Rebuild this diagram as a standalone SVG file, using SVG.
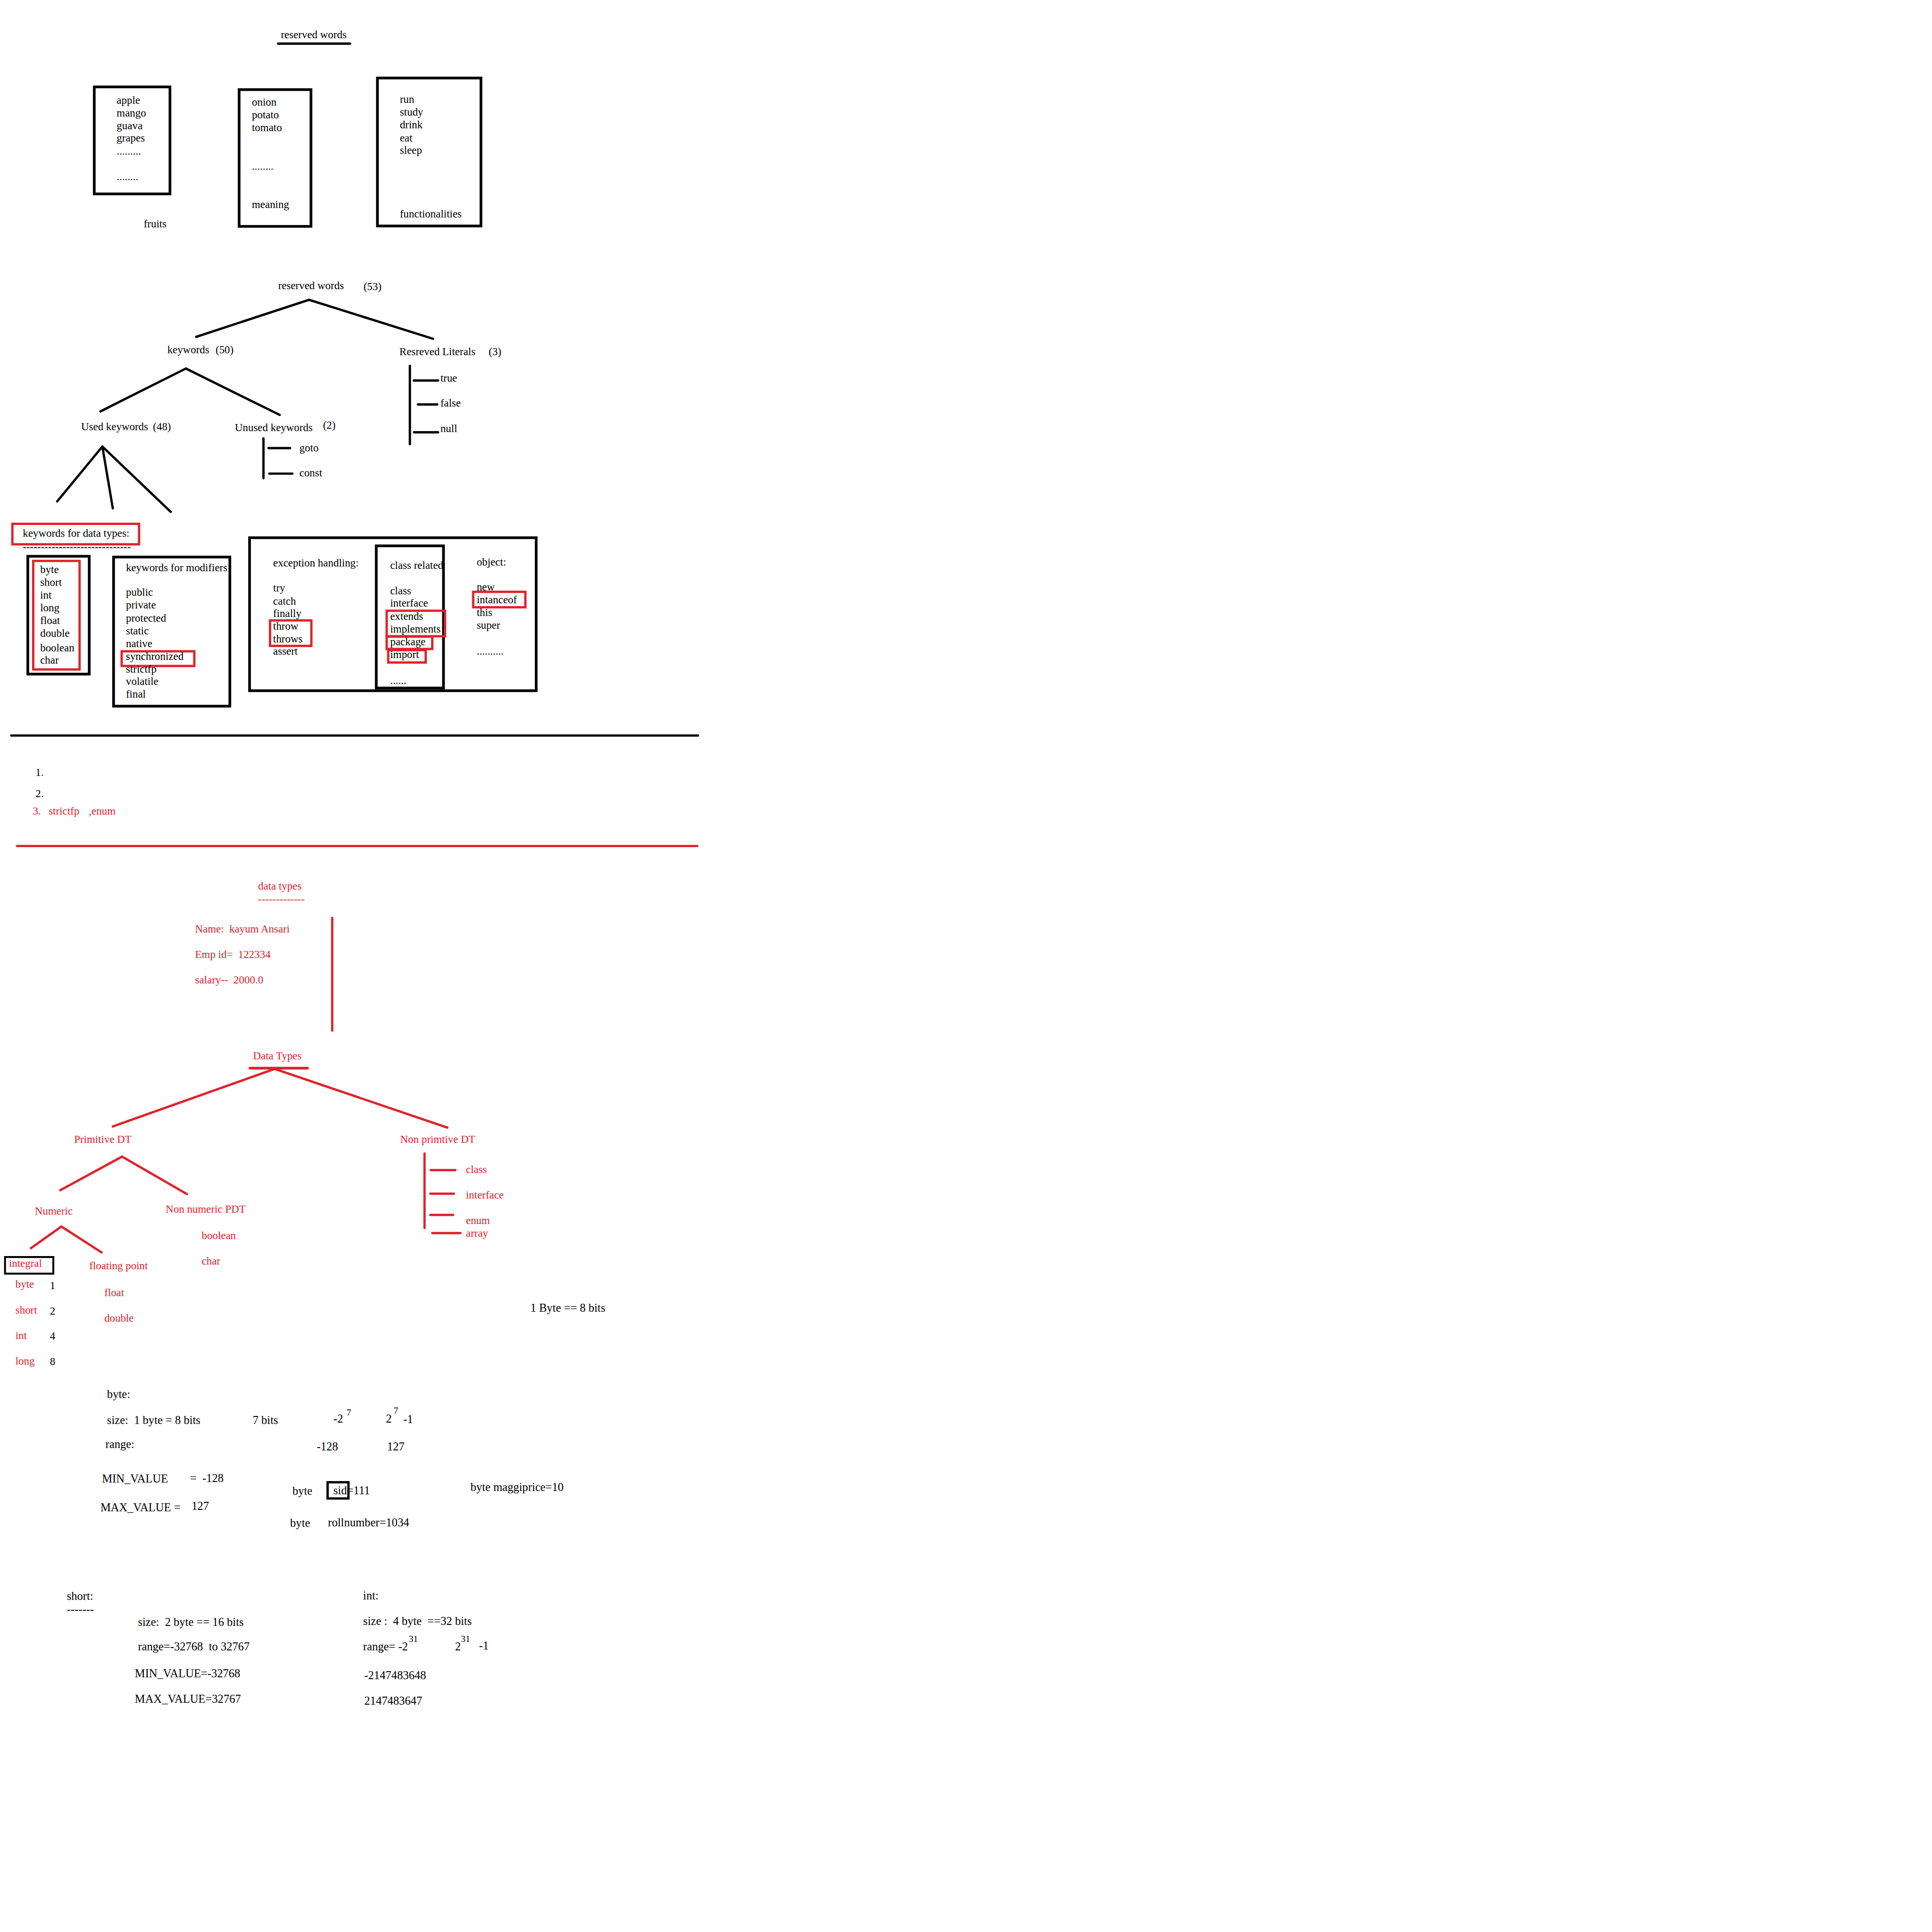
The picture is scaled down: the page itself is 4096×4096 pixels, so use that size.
<svg xmlns="http://www.w3.org/2000/svg" width="4096" height="4096" viewBox="0 0 4096 4096">
<style>
text{font-family:"Liberation Serif","DejaVu Serif",serif;font-size:28px;fill:#000;white-space:pre}
.big text{font-size:30px}
text.r{fill:#e0222b}
.big text.sup,text.sup{font-size:24px}
.bk{fill:none;stroke:#000;stroke-width:7}
.rb{fill:none;stroke:#e0222b;stroke-width:6}
.ln{fill:none;stroke:#000;stroke-width:6;stroke-linecap:round}
.rl{fill:none;stroke:#e0222b;stroke-width:6;stroke-linecap:round}
</style>
<rect width="4096" height="4096" fill="#fff"/>
<g transform="scale(0.819)">
<!-- Section 1 -->
<g id="title-reserved">
<text x="727" y="99">reserved words</text>
<line class="ln" x1="720" y1="113" x2="906" y2="113"/>
</g>
<g id="box-fruits">
<rect class="bk" x="244" y="225" width="196" height="277"/>
<text x="302" y="269">apple</text>
<text x="302" y="302">mango</text>
<text x="302" y="334">guava</text>
<text x="302" y="366">grapes</text>
<text x="302" y="401">.........</text>
<text x="302" y="467">........</text>
<text x="372" y="588">fruits</text>
</g>
<g id="box-veg">
<rect class="bk" x="619" y="232" width="186" height="354"/>
<text x="652" y="273">onion</text>
<text x="652" y="306">potato</text>
<text x="652" y="339">tomato</text>
<text x="652" y="439">........</text>
<text x="652" y="538">meaning</text>
</g>
<g id="box-verbs">
<rect class="bk" x="977" y="202" width="268" height="383"/>
<text x="1035" y="266">run</text>
<text x="1035" y="299">study</text>
<text x="1035" y="332">drink</text>
<text x="1035" y="366">eat</text>
<text x="1035" y="398">sleep</text>
<text x="1035" y="563">functionalities</text>
</g>
<!-- Section 2 -->
<g id="n-reserved"><text x="720" y="748">reserved words</text><text x="941" y="751">(53)</text></g>
<g id="n-keywords"><text x="433" y="914">keywords</text><text x="558" y="914">(50)</text></g>
<g id="n-literals"><text x="1034" y="919">Resreved Literals</text><text x="1265" y="919">(3)</text></g>
<g id="n-true"><text x="1140" y="988">true</text></g>
<g id="n-false"><text x="1140" y="1052">false</text></g>
<g id="n-null"><text x="1140" y="1118">null</text></g>
<g id="n-used"><text x="210" y="1113">Used keywords</text><text x="396" y="1113">(48)</text></g>
<g id="n-unused"><text x="608" y="1116">Unused keywords</text><text x="836" y="1110">(2)</text></g>
<g id="n-goto"><text x="775" y="1168">goto</text></g>
<g id="n-const"><text x="775" y="1233">const</text></g>
<!-- Section 3 -->
<g id="n-kw-datatypes">
<rect class="rb" x="32" y="1356" width="328" height="53"/>
<text x="59" y="1390">keywords for data types:</text>
<text x="59" y="1425">------------------------------</text>
</g>
<g id="box-datatypes">
<rect class="bk" x="72" y="1440" width="159" height="305"/>
<rect class="rb" x="86" y="1452" width="120" height="281"/>
<text x="104" y="1484">byte</text>
<text x="104" y="1516">short</text>
<text x="104" y="1550">int</text>
<text x="104" y="1582">long</text>
<text x="104" y="1615">float</text>
<text x="104" y="1648">double</text>
<text x="104" y="1686">boolean</text>
<text x="104" y="1718">char</text>
</g>
<g id="box-modifiers">
<rect class="bk" x="294" y="1442" width="301" height="386"/>
<text x="326" y="1479">keywords for modifiers</text>
<text x="326" y="1542">public</text>
<text x="326" y="1575">private</text>
<text x="326" y="1609">protected</text>
<text x="326" y="1642">static</text>
<text x="326" y="1675">native</text>
<rect class="rb" x="315" y="1686" width="188" height="38"/>
<text x="326" y="1708">synchronized</text>
<text x="326" y="1741">strictfp</text>
<text x="326" y="1773">volatile</text>
<text x="326" y="1806">final</text>
</g>
<g id="box-others">
<rect class="bk" x="646" y="1392" width="742" height="396"/>
<text x="707" y="1466">exception handling:</text>
<text x="707" y="1531">try</text>
<text x="707" y="1565">catch</text>
<text x="707" y="1597">finally</text>
<rect class="rb" x="699" y="1606" width="107" height="66"/>
<text x="707" y="1630">throw</text>
<text x="707" y="1663">throws</text>
<text x="707" y="1695">assert</text>
<rect class="bk" x="974" y="1413" width="174" height="368"/>
<text x="1010" y="1473">class related</text>
<text x="1010" y="1538">class</text>
<text x="1010" y="1570">interface</text>
<rect class="rb" x="1001" y="1581" width="151" height="66"/>
<text x="1010" y="1605">extends</text>
<text x="1010" y="1637">implements</text>
<rect class="rb" x="1001" y="1648" width="118" height="32"/>
<text x="1010" y="1670">package</text>
<rect class="rb" x="1005" y="1683" width="97" height="32"/>
<text x="1010" y="1703">import</text>
<text x="1010" y="1770">......</text>
<text x="1234" y="1464">object:</text>
<text x="1234" y="1529">new</text>
<rect class="rb" x="1225" y="1532" width="135" height="40"/>
<text x="1234" y="1562">intanceof</text>
<text x="1234" y="1595">this</text>
<text x="1234" y="1627">super</text>
<text x="1234" y="1695">..........</text>
</g>
<!-- Section 4 -->
<g id="list">
<text x="92" y="2008">1.</text>
<text x="92" y="2063">2.</text>
<text class="r" x="85" y="2109">3.</text>
<text class="r" x="126" y="2109">strictfp</text>
<text class="r" x="230" y="2109">,enum</text>
</g>
<!-- Section 5 -->
<g id="n-datatypes-title">
<text class="r" x="668" y="2303">data types</text>
<text class="r" x="668" y="2337">-------------</text>
</g>
<g id="n-employee">
<text class="r" x="505" y="2414">Name:  kayum Ansari</text>
<text class="r" x="505" y="2480">Emp id=  122334</text>
<text class="r" x="505" y="2546">salary--  2000.0</text>
</g>
<!-- Section 6 -->
<g id="n-DataTypes"><text class="r" x="655" y="2742">Data Types</text><line class="rl" x1="647" y1="2765" x2="796" y2="2765" style="stroke-width:7"/></g>
<g id="n-primitive"><text class="r" x="192" y="2958">Primitive DT</text></g>
<g id="n-nonprimitive"><text class="r" x="1036" y="2959">Non primtive DT</text></g>
<g id="n-np-class"><text class="r" x="1206" y="3037">class</text></g>
<g id="n-np-interface"><text class="r" x="1206" y="3103">interface</text></g>
<g id="n-np-enum"><text class="r" x="1206" y="3169">enum</text></g>
<g id="n-np-array"><text class="r" x="1206" y="3201">array</text></g>
<g id="n-numeric"><text class="r" x="90" y="3144">Numeric</text></g>
<g id="n-nonnumeric"><text class="r" x="429" y="3139">Non numeric PDT</text></g>
<g id="n-boolean"><text class="r" x="522" y="3207">boolean</text></g>
<g id="n-char"><text class="r" x="522" y="3273">char</text></g>
<g id="n-integral">
<rect x="13" y="3254" width="125" height="43" fill="none" stroke="#000" stroke-width="5"/>
<text class="r" x="23" y="3279">integral</text>
</g>
<g id="n-floating"><text class="r" x="231" y="3286">floating point</text></g>
<g id="n-float"><text class="r" x="270" y="3355">float</text></g>
<g id="n-double"><text class="r" x="270" y="3421">double</text></g>
<g id="n-integral-list">
<text class="r" x="40" y="3333">byte</text><text x="129" y="3337">1</text>
<text class="r" x="40" y="3400">short</text><text x="129" y="3403">2</text>
<text class="r" x="40" y="3466">int</text><text x="129" y="3468">4</text>
<text class="r" x="40" y="3532">long</text><text x="129" y="3534">8</text>
</g>
<g id="n-byte-bits" class="big"><text x="1373" y="3395">1 Byte == 8 bits</text></g>
<!-- byte section -->
<g id="n-byte" class="big">
<text x="277" y="3619">byte:</text>
<text x="277" y="3686">size:  1 byte = 8 bits</text>
<text x="654" y="3686">7 bits</text>
<text x="863" y="3683">-2</text>
<text class="sup" x="897" y="3664">7</text>
<text x="999" y="3682">2</text>
<text class="sup" x="1019" y="3659">7</text>
<text x="1044" y="3684">-1</text>
<text x="273" y="3748">range:</text>
<text x="820" y="3755">-128</text>
<text x="1002" y="3754">127</text>
<text x="264" y="3838">MIN_VALUE</text>
<text x="492" y="3836">=  -128</text>
<text x="260" y="3912">MAX_VALUE =</text>
<text x="496" y="3909">127</text>
</g>
<g id="n-byte-examples" class="big">
<text x="757" y="3869">byte</text>
<rect x="848" y="3837" width="54" height="42" fill="none" stroke="#000" stroke-width="6"/>
<text x="863" y="3868">sid=111</text>
<text x="751" y="3952">byte</text>
<text x="849" y="3951">rollnumber=1034</text>
<text x="1218" y="3860">byte maggiprice=10</text>
</g>
<!-- short / int -->
<g id="n-short" class="big">
<text x="173" y="4142">short:</text>
<text x="173" y="4176">-------</text>
<text x="357" y="4209">size:  2 byte == 16 bits</text>
<text x="357" y="4272">range=-32768  to 32767</text>
<text x="349" y="4342">MIN_VALUE=-32768</text>
<text x="349" y="4408">MAX_VALUE=32767</text>
</g>
<g id="n-int" class="big">
<text x="940" y="4140">int:</text>
<text x="940" y="4206">size :  4 byte  ==32 bits</text>
<text x="940" y="4272">range= -2</text>
<text class="sup" x="1058" y="4250">31</text>
<text x="1178" y="4272">2</text>
<text class="sup" x="1193" y="4250">31</text>
<text x="1240" y="4270">-1</text>
<text x="943" y="4347">-2147483648</text>
<text x="943" y="4413">2147483647</text>
</g>
<!-- connectors -->
<g id="connectors">
<line class="ln" x1="800" y1="776" x2="508" y2="872"/>
<line class="ln" x1="800" y1="776" x2="1121" y2="877"/>
<line class="ln" x1="481" y1="954" x2="260" y2="1065"/>
<line class="ln" x1="481" y1="954" x2="724" y2="1074"/>
<line class="ln" x1="265" y1="1156" x2="148" y2="1298"/>
<line class="ln" x1="265" y1="1156" x2="292" y2="1316"/>
<line class="ln" x1="265" y1="1156" x2="442" y2="1325"/>
<line class="ln" x1="1061" y1="947" x2="1061" y2="1150"/>
<line class="ln" x1="1071" y1="985" x2="1134" y2="985"/>
<line class="ln" x1="1082" y1="1047" x2="1132" y2="1047"/>
<line class="ln" x1="1072" y1="1119" x2="1134" y2="1119"/>
<line class="ln" x1="682" y1="1135" x2="682" y2="1238"/>
<line class="ln" x1="695" y1="1160" x2="751" y2="1160"/>
<line class="ln" x1="697" y1="1226" x2="757" y2="1226"/>
<line class="ln" x1="29" y1="1904" x2="1807" y2="1904"/>
<line class="rl" x1="44" y1="2190" x2="1805" y2="2190"/>
<line class="rl" x1="860" y1="2376" x2="860" y2="2668"/>
<line class="rl" x1="711" y1="2767" x2="292" y2="2916"/>
<line class="rl" x1="711" y1="2767" x2="1158" y2="2919"/>
<line class="rl" x1="316" y1="2994" x2="156" y2="3081"/>
<line class="rl" x1="316" y1="2994" x2="484" y2="3091"/>
<line class="rl" x1="159" y1="3175" x2="80" y2="3231"/>
<line class="rl" x1="159" y1="3175" x2="263" y2="3242"/>
<line class="rl" x1="1099" y1="2986" x2="1099" y2="3179"/>
<line class="rl" x1="1115" y1="3029" x2="1179" y2="3029"/>
<line class="rl" x1="1114" y1="3090" x2="1175" y2="3090"/>
<line class="rl" x1="1114" y1="3145" x2="1173" y2="3145"/>
<line class="rl" x1="1119" y1="3192" x2="1192" y2="3192"/>
</g>
</g>
</svg>
